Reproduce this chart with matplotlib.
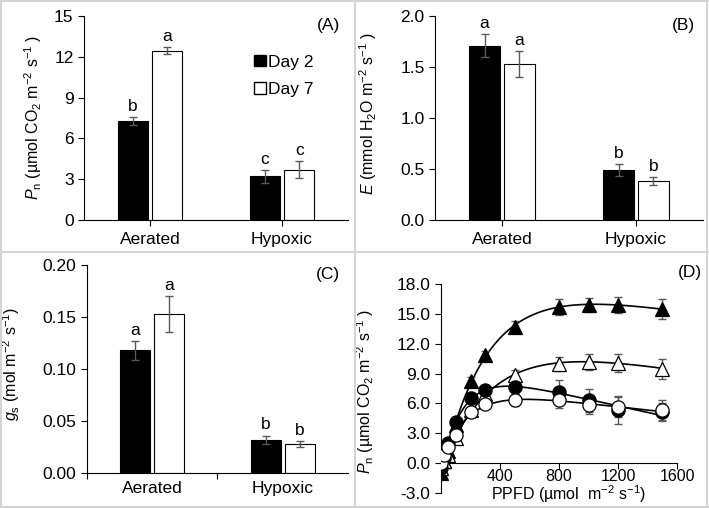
import numpy as np
import matplotlib
matplotlib.use('Agg')
import matplotlib.pyplot as plt
from matplotlib.lines import Line2D
from matplotlib.patches import Patch

plt.rcParams['font.family'] = ['Liberation Sans', 'DejaVu Sans']
plt.rcParams['mathtext.fontset'] = 'custom'
plt.rcParams['mathtext.rm'] = 'Liberation Sans'
plt.rcParams['mathtext.it'] = 'Liberation Sans:italic'
plt.rcParams['axes.unicode_minus'] = False

# bar panels (A-C): Day 2 / Day 7 for aerated and hypoxic
groups = ['Aerated', 'Hypoxic']

pn_day2 = [7.25, 3.2]
pn_day2_err = [0.3, 0.5]
pn_day7 = [12.45, 3.7]
pn_day7_err = [0.25, 0.6]
pn_letters = [['b', 'c'], ['a', 'c']]

e_day2 = [1.71, 0.49]
e_day2_err = [0.11, 0.06]
e_day7 = [1.53, 0.38]
e_day7_err = [0.13, 0.04]
e_letters = [['a', 'b'], ['a', 'b']]

gs_day2 = [0.118, 0.032]
gs_day2_err = [0.009, 0.004]
gs_day7 = [0.153, 0.028]
gs_day7_err = [0.017, 0.003]
gs_letters = [['a', 'b'], ['a', 'b']]

# panel D: light response curves
ppfd = [0, 20, 50, 100, 200, 300, 500, 800, 1000, 1200, 1500]
tri_filled = [-1.0, 0.2, 1.2, 3.8, 8.3, 10.9, 13.7, 15.7, 15.9, 15.9, 15.5]
tri_filled_err = [0.3, 0.3, 0.3, 0.4, 0.4, 0.4, 0.6, 0.8, 0.7, 0.8, 1.0]
tri_open = [-0.5, 0.2, 0.8, 2.5, 5.3, 6.9, 8.9, 10.0, 10.2, 10.1, 9.5]
tri_open_err = [0.3, 0.3, 0.3, 0.3, 0.4, 0.4, 0.5, 0.7, 0.8, 0.9, 1.0]
circ_filled = [-0.5, 0.5, 2.0, 4.1, 6.5, 7.4, 7.7, 7.2, 6.3, 5.3, 5.1]
circ_filled_err = [0.3, 0.3, 0.3, 0.3, 0.3, 0.4, 0.6, 1.2, 1.2, 1.4, 0.9]
circ_open = [0.0, 0.8, 1.6, 2.8, 5.1, 5.9, 6.3, 6.3, 5.8, 5.6, 5.3]
circ_open_err = [0.3, 0.3, 0.3, 0.3, 0.3, 0.4, 0.6, 0.8, 0.9, 1.0, 1.0]

ERR_COLOR = '#595959'
FS = 12.5
LFS = 11.5


def bar_panel(ax, d2, d2e, d7, d7e, letters, ymax, step, fmt, ylabel, tag, mid_tick=False):
    x = np.arange(len(groups))
    w = 0.23
    off = 0.13
    ax.bar(x - off, d2, w, color='black', edgecolor='black', linewidth=0.8, zorder=2)
    ax.bar(x + off, d7, w, color='white', edgecolor='black', linewidth=0.8, zorder=2)
    ax.errorbar(x - off, d2, yerr=d2e, fmt='none', ecolor=ERR_COLOR, elinewidth=1, capsize=3, zorder=3)
    ax.errorbar(x + off, d7, yerr=d7e, fmt='none', ecolor=ERR_COLOR, elinewidth=1, capsize=3, zorder=3)
    pad = ymax * 0.015
    for i in range(len(groups)):
        ax.text(x[i] - off, d2[i] + d2e[i] + pad, letters[0][i], ha='center', va='bottom', fontsize=FS)
        ax.text(x[i] + off, d7[i] + d7e[i] + pad, letters[1][i], ha='center', va='bottom', fontsize=FS)
    ax.set_xlim(-0.5, 1.5)
    ax.set_ylim(0, ymax)
    ax.set_yticks(np.arange(0, ymax + step / 2, step))
    ax.yaxis.set_major_formatter(matplotlib.ticker.FormatStrFormatter(fmt))
    if mid_tick:
        ax.set_xticks([-0.5, 0.5])
        ax.set_xticklabels([])
        ax.set_xticks(x, minor=True)
        ax.set_xticklabels(groups, minor=True)
        ax.tick_params(axis='x', which='minor', length=0, pad=6, labelsize=FS)
    else:
        ax.set_xticks(x)
        ax.set_xticklabels(groups)
    ax.tick_params(axis='both', labelsize=FS, length=4, width=0.8, direction='out')
    ax.tick_params(axis='x', pad=5)
    ax.spines['top'].set_visible(False)
    ax.spines['right'].set_visible(False)
    ax.set_ylabel(ylabel, fontsize=LFS)
    ax.text(0.97, 0.955, tag, transform=ax.transAxes, ha='right', va='center', fontsize=FS)


def fit_curve(xv, yv):
    # least-squares fit of P = d + a*(1 - exp(-k*I)) + c*I with a grid over k
    xv = np.asarray(xv, float)
    yv = np.asarray(yv, float)
    best = None
    for k in np.linspace(0.0005, 0.02, 200):
        A = np.column_stack([np.ones_like(xv), 1 - np.exp(-k * xv), xv])
        coef, res, _, _ = np.linalg.lstsq(A, yv, rcond=None)
        r = np.sum((A @ coef - yv) ** 2)
        if best is None or r < best[0]:
            best = (r, k, coef)
    _, k, coef = best
    xs = np.linspace(0, xv.max(), 300)
    ys = coef[0] + coef[1] * (1 - np.exp(-k * xs)) + coef[2] * xs
    return xs, ys


fig = plt.figure(figsize=(7.09, 5.08), dpi=100)

axA = fig.add_axes([0.1185, 0.567, 0.3724, 0.4016])
bar_panel(axA, pn_day2, pn_day2_err, pn_day7, pn_day7_err, pn_letters, 15, 3, '%d',
          r'$P_{\rm n}$ (µmol CO$_2$ m$^{-2}$ s$^{-1}$ )', '(A)')
axA.yaxis.set_label_coords(-0.152, 0.505)
handles = [Patch(facecolor='black', edgecolor='black'), Patch(facecolor='white', edgecolor='black')]
axA.legend(handles, ['Day 2', 'Day 7'], loc='upper left', bbox_to_anchor=(0.645, 0.81), frameon=False,
           fontsize=FS, handlelength=0.65, handleheight=0.65, handletextpad=0.15, labelspacing=0.7,
           borderaxespad=0, borderpad=0)

axB = fig.add_axes([0.6135, 0.567, 0.378, 0.4016])
bar_panel(axB, e_day2, e_day2_err, e_day7, e_day7_err, e_letters, 2.0, 0.5, '%.1f',
          r'$E$ (mmol H$_2$O m$^{-2}$ s$^{-1}$ )', '(B)')
axB.yaxis.set_label_coords(-0.209, 0.52)

axC = fig.add_axes([0.1227, 0.0689, 0.368, 0.4094])
bar_panel(axC, gs_day2, gs_day2_err, gs_day7, gs_day7_err, gs_letters, 0.20, 0.05, '%.2f',
          r'$g_{\rm s}$ (mol m$^{-2}$ s$^{-1}$)', '(C)', mid_tick=True)
axC.yaxis.set_label_coords(-0.249, 0.524)

axD = fig.add_axes([0.622, 0.0295, 0.3329, 0.4114])
series = [
    (tri_filled, tri_filled_err, '^', 'black'),
    (tri_open, tri_open_err, '^', 'white'),
    (circ_filled, circ_filled_err, 'o', 'black'),
    (circ_open, circ_open_err, 'o', 'white'),
]
for yv, ye, mk, fc in series:
    xs, ys = fit_curve(ppfd, yv)
    axD.plot(xs, ys, color='black', linewidth=1.2, zorder=2)
    axD.errorbar(ppfd, yv, yerr=ye, fmt='none', ecolor=ERR_COLOR, elinewidth=1, capsize=3, zorder=3)
    axD.plot(ppfd, yv, linestyle='none', marker=mk, markersize=9.5, markerfacecolor=fc,
             markeredgecolor='black', markeredgewidth=0.9, zorder=4)
axD.set_xlim(0, 1600)
axD.set_ylim(-3, 18)
axD.set_yticks(np.arange(-3, 18.1, 3))
axD.yaxis.set_major_formatter(matplotlib.ticker.FormatStrFormatter('%.1f'))
axD.set_xticks([400, 800, 1200, 1600])
axD.spines['bottom'].set_position(('data', 0))
axD.spines['top'].set_visible(False)
axD.spines['right'].set_visible(False)
axD.tick_params(axis='both', labelsize=FS, length=4, width=0.8, direction='out')
axD.tick_params(axis='x', pad=0, labelsize=11.5)
axD.set_ylabel(r'$P_{\rm n}$ (µmol CO$_2$ m$^{-2}$ s$^{-1}$ )', fontsize=LFS)
axD.yaxis.set_label_coords(-0.275, 0.486)
axD.set_xlabel('PPFD (µmol  m$^{-2}$ s$^{-1}$)', fontsize=11.5)
axD.xaxis.set_label_coords(0.54, 0.045)
axD.text(1.105, 1.055, '(D)', transform=axD.transAxes, ha='right', va='center', fontsize=FS)

# light gray panel frames
frame = '#d4d4d4'
for xs, ys in [([0.002, 0.998], [0.998, 0.998]), ([0.002, 0.998], [0.002, 0.002]),
               ([0.002, 0.002], [0.002, 0.998]), ([0.997, 0.997], [0.002, 0.998]),
               ([0.5, 0.5], [0.002, 0.998]), ([0.002, 0.998], [0.503, 0.503])]:
    fig.add_artist(Line2D(xs, ys, color=frame, linewidth=1.5, transform=fig.transFigure))

fig.savefig('out.png', dpi=100)
